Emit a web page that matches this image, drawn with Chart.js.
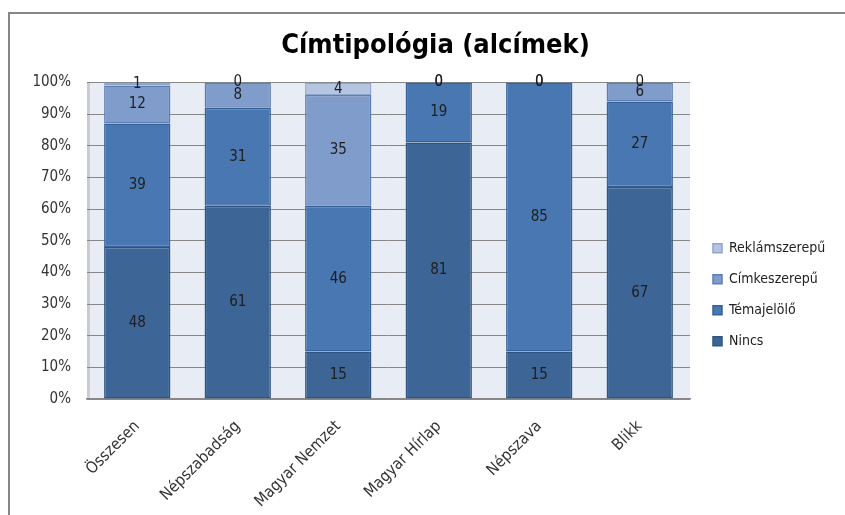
<!DOCTYPE html>
<html>
<head>
<meta charset="utf-8">
<script src="https://cdn.jsdelivr.net/npm/chart.js@4"></script>
<style>
  html, body { margin: 0; padding: 0; background: #fff; }
  #wrap { position: relative; width: 845px; height: 515px; }
  #frame { position: absolute; left: 8px; top: 12px; right: 0; bottom: 0;
           border-top: 2px solid #868686; border-left: 2px solid #868686; }
  canvas { position: absolute; left: 0; top: 0; }
</style>
</head>
<body>
<div id="wrap">
  <div id="frame"></div>
  <canvas id="chart" width="845" height="515"></canvas>
</div>
<script>
  const categories = ["Összesen", "Népszabadság", "Magyar Nemzet", "Magyar Hírlap", "Népszava", "Blikk"];
  const nincs = [48, 61, 15, 81, 15, 67];
  const temajelolo = [39, 31, 46, 19, 85, 27];
  const cimkeszerepu = [12, 8, 35, 0, 0, 6];
  const reklamszerepu = [1, 0, 4, 0, 0, 0];
  const yTicks = [0, 10, 20, 30, 40, 50, 60, 70, 80, 90, 100];

  const FONT = "'DejaVu Sans Condensed', 'DejaVu Sans', sans-serif";

  // light plot background
  const plotBg = {
    id: "plotBg",
    beforeDraw(chart) {
      const { ctx, chartArea: a } = chart;
      ctx.save();
      ctx.fillStyle = "#e8ecf4";
      ctx.fillRect(a.left, a.top, a.right - a.left, a.bottom - a.top);
      ctx.fillStyle = "#c9ccd3";
      ctx.fillRect(a.left, a.top, 3, a.bottom - a.top);
      ctx.restore();
    }
  };

  // fixed legend width so the plot ends where it does in the original,
  // then nudge the legend and the title a bit to the right
  const nudge = {
    id: "nudge",
    beforeInit(chart) {
      const lg = chart.legend;
      const fit = lg.fit.bind(lg);
      lg.fit = function () { fit(); this.width = 155; };
    },
    afterLayout(chart) {
      chart.legend.left += 6;
      chart.legend.right += 6;
      chart.titleBlock.left += 8;
      chart.titleBlock.right += 8;
    }
  };

  // value labels in the middle of each segment
  const segLabels = {
    id: "segLabels",
    afterDatasetsDraw(chart) {
      const ctx = chart.ctx;
      ctx.save();
      ctx.font = "15px " + FONT;
      ctx.fillStyle = "#1e1e1e";
      ctx.textAlign = "center";
      ctx.textBaseline = "middle";
      chart.data.datasets.forEach((ds, i) => {
        const meta = chart.getDatasetMeta(i);
        meta.data.forEach((el, j) => {
          const y = (el.y + el.base) / 2;
          ctx.fillText(String(ds.data[j]), el.x, y);
        });
      });
      ctx.restore();
    }
  };

  const mk = (label, data, fill, edge) => ({
    label, data,
    backgroundColor: fill,
    borderColor: edge,
    borderWidth: 1.5,
    borderSkipped: false,
    categoryPercentage: 1,
    barPercentage: 0.66,
  });

  new Chart(document.getElementById("chart"), {
    type: "bar",
    data: {
      labels: categories,
      datasets: [
        mk("Nincs", nincs, "#3d6596", "#2f5481"),
        mk("Témajelölő", temajelolo, "#4977b1", "#356298"),
        mk("Címkeszerepű", cimkeszerepu, "#7f9ccb", "#5d7fb3"),
        mk("Reklámszerepű", reklamszerepu, "#b4c4e1", "#8ea5cc"),
      ],
    },
    options: {
      responsive: false,
      animation: false,
      layout: { padding: { left: 10, right: 0, top: 14, bottom: 0 } },
      plugins: {
        title: {
          display: true,
          text: "Címtipológia (alcímek)",
          color: "#000",
          font: { family: FONT, size: 27, weight: "bold" },
          padding: { top: 16, bottom: 20 },
        },
        legend: {
          position: "right",
          reverse: true,
          title: { display: true, text: "", padding: { top: 46, bottom: 0 } },
          labels: {
            color: "#222",
            font: { family: FONT, size: 14 },
            boxWidth: 9,
            boxHeight: 9,
            padding: 17,
          },
        },
        tooltip: { enabled: false },
      },
      scales: {
        x: {
          stacked: true,
          afterFit: (s) => { s.height = 116; },
          grid: { display: false },
          border: { color: "#888", width: 1.5 },
          ticks: {
            color: "#333",
            font: { family: FONT, size: 16 },
            minRotation: 45,
            maxRotation: 45,
            padding: 10,
          },
        },
        y: {
          stacked: true,
          min: 0,
          max: 100,
          afterFit: (s) => { s.width = 77; },
          afterBuildTicks: (s) => { s.ticks = yTicks.map(v => ({ value: v })); },
          grid: { color: "#878787", drawTicks: false },
          border: { display: false },
          ticks: {
            color: "#333",
            font: { family: FONT, size: 15 },
            padding: 16,
            callback: (v) => v + "%",
          },
        },
      },
    },
    plugins: [plotBg, nudge, segLabels],
  });
</script>
</body>
</html>
